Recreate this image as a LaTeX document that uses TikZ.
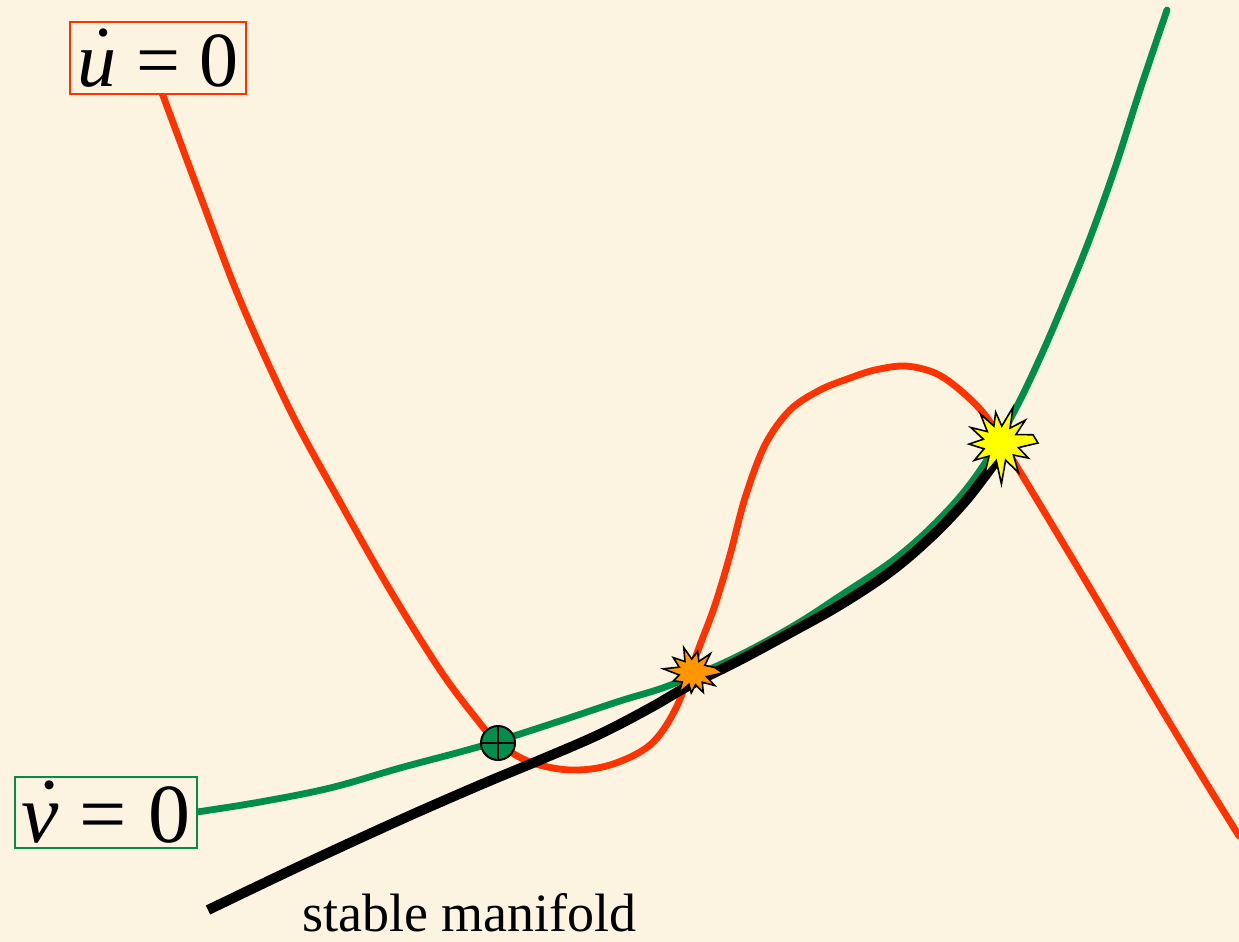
\documentclass[tikz,border=0pt]{standalone}
\usepackage{fontspec}
\setmainfont{Liberation Serif}
\definecolor{bg}{RGB}{252,244,224}
\definecolor{redc}{RGB}{255,50,0}
\definecolor{greenc}{RGB}{0,142,74}
\definecolor{orangec}{RGB}{255,150,0}
\definecolor{yellowc}{RGB}{255,255,0}
\newcommand\dotvar[1]{\makebox[0pt][l]{\kern0.17em\raisebox{0.07em}{˙}}\textit{#1}}
\tikzset{
  nullred/.style={draw=redc, line width=3.4pt, line cap=round},
  nullgreen/.style={draw=greenc, line width=3.4pt, line cap=round},
  manifold/.style={draw=black, line width=5pt},
  eqlabel/.style={fill=bg, line width=0.8pt, inner sep=0pt, align=center},
  burst/.style={draw=black, line width=0.8pt, line join=miter}
}
\begin{document}
\begin{tikzpicture}[x=0.5pt,y=-0.5pt]
\fill[bg] (0,0) rectangle (1239,942);
\useasboundingbox (0,0) rectangle (1239,942);

% v-dot nullcline (green)
\draw[nullgreen] plot[smooth, tension=0.6] coordinates {(197,812) (260,802) (330,788) (400,768) (460,752) (498,741) (560,721) (620,701) (668,686) (730,660) (790,628) (840,596) (900,555) (950,508) (985,463) (1015,410) (1040,358) (1065,300) (1090,238) (1115,168) (1140,90) (1167,10)};

% u-dot nullcline (red)
\draw[nullred] plot[smooth, tension=0.55] coordinates {(162,93) (200,195) (240,300) (290,410) (340,502) (390,590) (440,670) (475,717) (498,743) (530,762) (570,770) (610,765) (650,745) (676,708) (700,645) (715,605) (730,555) (745,498) (765,445) (790,410) (820,390) (850,378) (875,370) (905,366) (935,373) (960,390) (985,415) (1005,447) (1025,480) (1060,538) (1100,605) (1150,690) (1200,773) (1239,836)};

% stable manifold (black)
\draw[manifold] plot[smooth, tension=0.6] coordinates {(208,910) (300,866) (400,820) (480,785) (540,760) (600,734) (650,708) (690,685) (740,660) (790,633) (840,605) (890,572) (930,538) (962,505) (985,476) (1000,455)};

% equilibrium dot
\node[circle, draw=black, fill=greenc, line width=1pt, minimum size=17pt, inner sep=0pt] (eq) at (498,743) {};
\draw[line width=1pt] (eq.north) -- (eq.south) (eq.west) -- (eq.east);

% orange burst
\begin{scope}[shift={(693,673)}]
\draw[burst, fill=orangec] (0:30) -- (15:14) -- (30:25) -- (45:13) -- (62:22) -- (78:12) -- (95:20) -- (110:12) -- (125:24) -- (140:14) -- (158:21) -- (172:14) -- (188:30) -- (203:15) -- (218:25) -- (235:14) -- (250:27) -- (265:14) -- (282:22) -- (297:13) -- (312:26) -- (327:14) -- (345:22) -- cycle;
\end{scope}

% yellow burst
\begin{scope}[shift={(1000,443)}]
\draw[burst, fill=yellowc] (0:38) -- (14:19) -- (28:32) -- (42:18) -- (58:35) -- (72:18) -- (88:41) -- (102:18) -- (116:35) -- (130:17) -- (146:31) -- (160:17) -- (178:31) -- (193:17) -- (208:33) -- (222:17) -- (236:35) -- (250:18) -- (262:31) -- (276:17) -- (290:38) -- (304:18) -- (318:34) -- (332:18) -- (346:34) -- cycle;
\end{scope}

% labels
\node[eqlabel, draw=redc, minimum width=88pt, minimum height=36pt, font=\fontsize{39}{39}\selectfont] (ulab) at (158,58) {\dotvar{u} = 0};
\node[eqlabel, draw=greenc, minimum width=91pt, minimum height=35.5pt, font=\fontsize{42}{42}\selectfont] (vlab) at (106,812.5) {\dotvar{v} = 0};
\node[anchor=base west, inner sep=0pt, font=\fontsize{27}{27}\selectfont] (smlab) at (302,931) {stable manifold};
\end{tikzpicture}
\end{document}
